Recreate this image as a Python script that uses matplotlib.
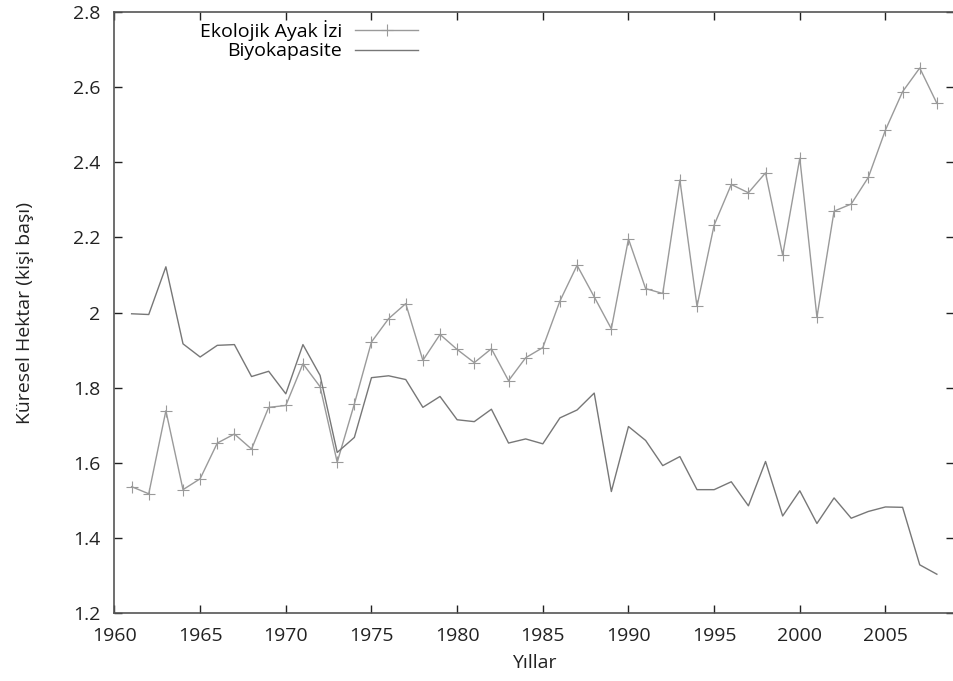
import matplotlib
matplotlib.use("Agg")
import matplotlib.pyplot as plt
from matplotlib.ticker import FuncFormatter, MultipleLocator

plt.rcParams['font.family'] = ['Open Sans', 'DejaVu Sans']

years = list(range(1961, 2009))

# ekolojik ayak izi (kişi başı küresel hektar)
ayak_izi = [1.537, 1.518, 1.739, 1.529, 1.558, 1.653, 1.677, 1.637, 1.748, 1.753,
            1.864, 1.803, 1.602, 1.757, 1.922, 1.984, 2.024, 1.873, 1.942, 1.902,
            1.867, 1.904, 1.819, 1.880, 1.907, 2.031, 2.126, 2.042, 1.957, 2.196,
            2.064, 2.051, 2.353, 2.017, 2.233, 2.341, 2.319, 2.372, 2.153, 2.411,
            1.988, 2.270, 2.289, 2.360, 2.486, 2.588, 2.651, 2.557]

# biyokapasite
biyokapasite = [1.997, 1.995, 2.122, 1.917, 1.882, 1.913, 1.915, 1.830, 1.844, 1.784,
                1.915, 1.833, 1.628, 1.668, 1.827, 1.832, 1.822, 1.748, 1.777, 1.715,
                1.710, 1.743, 1.653, 1.664, 1.651, 1.720, 1.741, 1.786, 1.524, 1.697,
                1.660, 1.593, 1.617, 1.529, 1.529, 1.550, 1.486, 1.604, 1.459, 1.526,
                1.439, 1.507, 1.453, 1.471, 1.483, 1.482, 1.329, 1.304]

fig = plt.figure(figsize=(9.54, 6.81), dpi=100)
ax = fig.add_axes([0.12, 0.0994, 0.88, 0.883])

ax.plot(years, ayak_izi, color='#9a9a9a', lw=1.0, marker='+', ms=8, mew=0.8,
        label='Ekolojik Ayak İzi')
ax.plot(years, biyokapasite, color='#777777', lw=1.0, label='Biyokapasite')

ax.set_xlim(1960, 2009)
ax.set_ylim(1.2, 2.8)
ax.xaxis.set_major_locator(MultipleLocator(5))
ax.yaxis.set_major_locator(MultipleLocator(0.2))
ax.yaxis.set_major_formatter(FuncFormatter(lambda v, p: '%g' % round(v, 2)))

ax.tick_params(direction='in', length=6, width=1, top=True, right=True,
               labelsize=14, colors='#222222', pad=10)
for s in ax.spines.values():
    s.set_color('#555555')
    s.set_linewidth(1.2)
ax.spines['right'].set_visible(False)

ax.set_xlabel('Yıllar', fontsize=14, color='#222222', labelpad=6)
ax.set_ylabel('Küresel Hektar (kişi başı)', fontsize=14, color='#222222', labelpad=28)

ax.legend(loc='upper right', bbox_to_anchor=(0.378, 1.01), frameon=False,
          markerfirst=False, fontsize=14, handlelength=3.25, labelspacing=0.1,
          borderpad=0.2, handletextpad=0.65)

fig.savefig('out.png', dpi=100)
